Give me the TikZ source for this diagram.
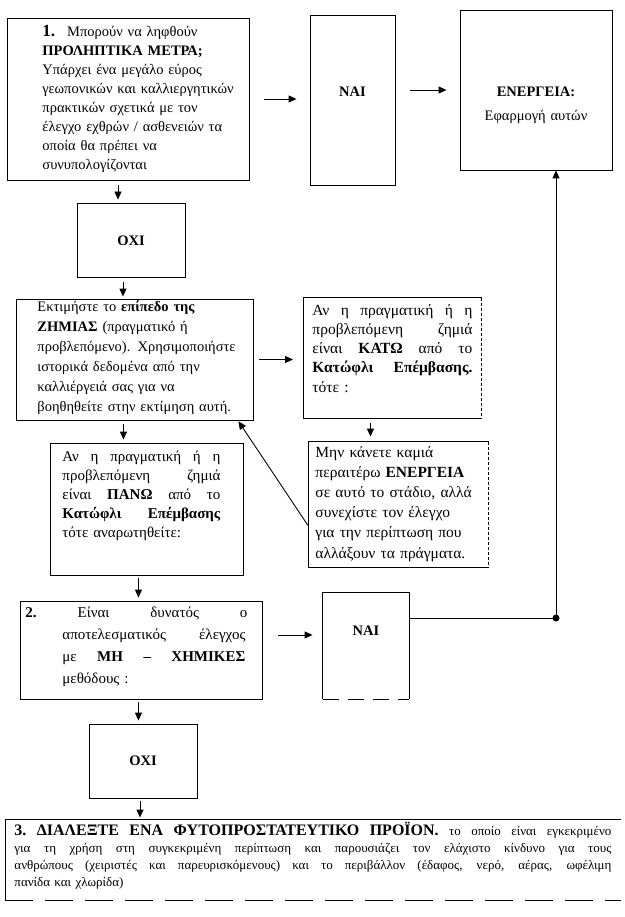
\documentclass[tikz,border=0pt]{standalone}
\usepackage{fontspec}
\setmainfont{Liberation Serif}
\usetikzlibrary{arrows.meta}

\newcommand{\spreadline}[2][\linewidth]{\makebox[#1][s]{\spaceskip=.3em plus 1fil\xspaceskip=.3em plus 1fil\relax#2}}

\begin{document}
\begin{tikzpicture}[x=1pt, y=-1pt,
  rim/.style={line width=0.9pt},
  box/.style={draw, rim, inner ysep=0pt, align=left, anchor=base west},
  tag/.style={draw, rim, inner sep=0pt, anchor=base, font=\bfseries\fontsize{14.5}{16}\selectfont},
  flow/.style={-{Triangle[length=8pt, width=7pt]}, line width=0.9pt}]
  \useasboundingbox (0,0) rectangle (624,917);

  % 1. preventive measures
  \node[box, inner xsep=5pt, text width=232pt, text height=19pt, text depth=143pt,
    font=\fontsize{14.5}{19}\selectfont] (measures) at (7,37)
    {\hspace*{30pt}{\bfseries\fontsize{17}{19}\selectfont 1.}\hspace{12pt}Μπορούν να ληφθούν\\
     \hspace*{30pt}\textbf{ΠΡΟΛΗΠΤΙΚΑ ΜΕΤΡΑ;}\\
     \hspace*{30pt}Υπάρχει ένα μεγάλο εύρος\\
     \hspace*{30pt}γεωπονικών και καλλιεργητικών\\
     \hspace*{30pt}πρακτικών σχετικά με τον\\
     \hspace*{30pt}έλεγχο εχθρών / ασθενειών τα\\
     \hspace*{30pt}οποία θα πρέπει να\\
     \hspace*{30pt}συνυπολογίζονται};
  \node[tag, minimum width=85pt, text height=82pt, text depth=88pt] (yesone) at (352.5,97) {ΝΑΙ};
  \node[tag, align=center, text width=152pt, text height=87pt, text depth=73pt,
    font=\fontsize{14.5}{24}\selectfont] (action) at (536,97)
    {\textbf{ΕΝΕΡΓΕΙΑ:}\\ Εφαρμογή αυτών};
  \node[tag, minimum width=108pt, text height=42pt, text depth=32pt] (noone) at (131,245) {ΟΧΙ};

  % damage level
  \node[box, inner xsep=5pt, text width=227pt, text height=12pt, text depth=109pt,
    font=\fontsize{14.5}{20}\selectfont] (damage) at (16,311)
    {\hspace*{16pt}Εκτιμήστε το \textbf{επίπεδο της}\\
     \hspace*{16pt}\textbf{ΖΗΜΙΑΣ} (πραγματικό ή\\
     \hspace*{16pt}προβλεπόμενο). Χρησιμοποιήστε\\
     \hspace*{16pt}ιστορικά δεδομένα από την\\
     \hspace*{16pt}καλλιέργειά σας για να\\
     \hspace*{16pt}βοηθηθείτε στην εκτίμηση αυτή.};
  \node[box, draw=none, inner xsep=9pt, text width=160pt, text height=17pt, text depth=103pt,
    font=\fontsize{15.5}{19.25}\selectfont] (under) at (303,315)
    {\spreadline{Αν η πραγματική ή η}\\
     \spreadline{προβλεπόμενη ζημιά}\\
     \spreadline{είναι \textbf{ΚΑΤΩ} από το}\\
     \spreadline{\textbf{Κατώφλι Επέμβασης.}}\\
     τότε :};
  \node[box, draw=none, inner xsep=7pt, text width=166pt, text height=15pt, text depth=110pt,
    font=\fontsize{15.5}{20.2}\selectfont] (nomore) at (308,457)
    {Μην κάνετε καμιά\\
     περαιτέρω \textbf{ΕΝΕΡΓΕΙΑ}\\
     σε αυτό το στάδιο, αλλά\\
     συνεχίστε τον έλεγχο\\
     για την περίπτωση που\\
     αλλάξουν τα πράγματα.};
  \node[box, inner xsep=12pt, text width=169pt, text height=18pt, text depth=114pt,
    font=\fontsize{15}{19}\selectfont] (over) at (50,461)
    {\spreadline[158pt]{Αν η πραγματική ή η}\\
     \spreadline[158pt]{προβλεπόμενη ζημιά}\\
     \spreadline[158pt]{είναι \textbf{ΠΑΝΩ} από το}\\
     \spreadline[158pt]{\textbf{Κατώφλι Επέμβασης}}\\
     τότε αναρωτηθείτε:};

  % 2. non-chemical control
  \node[box, inner xsep=5pt, text width=232pt, text height=16pt, text depth=82pt,
    font=\fontsize{15}{22}\selectfont] (nonchem) at (20,617)
    {\spreadline[222pt]{\textbf{2.} Είναι δυνατός ο}\\
     \hspace*{37pt}\spreadline[183pt]{αποτελεσματικός έλεγχος}\\
     \hspace*{37pt}\spreadline[183pt]{με \textbf{ΜΗ – ΧΗΜΙΚΕΣ}}\\
     \hspace*{37pt}μεθόδους :};
  \node[tag, draw=none, minimum width=86pt, text height=42pt, text depth=64pt] (yestwo) at (366,635) {ΝΑΙ};
  \node[tag, minimum width=108pt, text height=41pt, text depth=33pt] (notwo) at (143,765) {ΟΧΙ};

  % 3. plant protection product
  \node[box, draw=none, inner xsep=9pt, text width=597pt, text height=15pt, text depth=65pt,
    font=\fontsize{13}{17}\selectfont] (product) at (5,835)
    {\spreadline{{\bfseries\fontsize{16}{17}\selectfont 3. ΔΙΑΛΕΞΤΕ ΕΝΑ ΦΥΤΟΠΡΟΣΤΑΤΕΥΤΙΚΟ ΠΡΟΪΟΝ.} το οποίο είναι εγκεκριμένο}\\
     \spreadline{για τη χρήση στη συγκεκριμένη περίπτωση και παρουσιάζει τον ελάχιστο κίνδυνο για τους}\\
     \spreadline{ανθρώπους (χειριστές και παρευρισκόμενους) και το περιβάλλον (έδαφος, νερό, αέρας, ωφέλιμη}\\
     πανίδα και χλωρίδα)};

  % borders that are broken in the scan
  \draw[rim] (under.north east) -- (under.north west) -- (under.south west) -- (under.south east);
  \draw[rim, densely dashed] (under.north east) -- (under.south east);
  \draw[rim] (nomore.north east) -- (nomore.north west) -- (nomore.south west) -- (nomore.south east);
  \draw[rim, densely dashed] (nomore.north east) -- (nomore.south east);
  \draw[rim] (yestwo.south west) -- (yestwo.north west) -- (yestwo.north east) -- (yestwo.south east);
  \draw[rim, dash pattern=on 16pt off 9pt] (yestwo.south west) -- (yestwo.south east);
  \draw[rim] (product.north east) -- (product.north west) -- (product.south west);
  \draw[rim, dash pattern=on 28pt off 12pt] (product.south west) -- (product.south east);

  % arrows
  \draw[flow, shorten <=14pt, shorten >=13pt] (measures.east) -- (measures.east -| yesone.west);
  \draw[flow, shorten <=15pt, shorten >=13pt] (action.west -| yesone.east) -- (action.west);
  \draw[flow, shorten <=5pt, shorten >=3pt] ([xshift=-13pt]noone.north |- measures.south) -- ([xshift=-13pt]noone.north);
  \draw[flow, shorten <=5pt, shorten >=2pt] ([xshift=-8pt]noone.south) -- ([xshift=-8pt]noone.south |- damage.north);
  \draw[flow, shorten <=5pt, shorten >=10pt] (damage.east) -- (damage.east -| under.west);
  \draw[flow, shorten <=5pt, shorten >=5pt] ([xshift=-22pt]under.south) -- ([xshift=-22pt]under.south |- nomore.north);
  \draw[flow, shorten >=1pt] ([yshift=42pt]nomore.south west) -- ([xshift=-16pt]damage.south east);
  \draw[flow, shorten <=4pt, shorten >=3pt] ([xshift=-11.5pt]damage.south) -- ([xshift=-11.5pt]damage.south |- over.north);
  \draw[flow, shorten <=3pt, shorten >=3pt] ([xshift=-8.5pt]over.south) -- ([xshift=-8.5pt]over.south |- nonchem.north);
  \draw[flow, shorten <=15pt, shorten >=10pt] (yestwo.base -| nonchem.east) -- (yestwo.base -| yestwo.west);
  \draw[flow, shorten <=3pt, shorten >=3pt] ([xshift=-3pt]nonchem.south) -- ([xshift=-3pt]nonchem.south |- notwo.north);
  \draw[flow, shorten <=3pt, shorten >=2pt] ([xshift=-3pt]notwo.south) -- ([xshift=-3pt]notwo.south |- product.north);

  % back to action
  \coordinate (joint) at (556,618);
  \draw[rim] (joint -| yestwo.east) -- (joint);
  \draw[flow] (joint) -- (joint |- action.south);
  \fill (joint) circle (3.5pt);
\end{tikzpicture}
\end{document}
